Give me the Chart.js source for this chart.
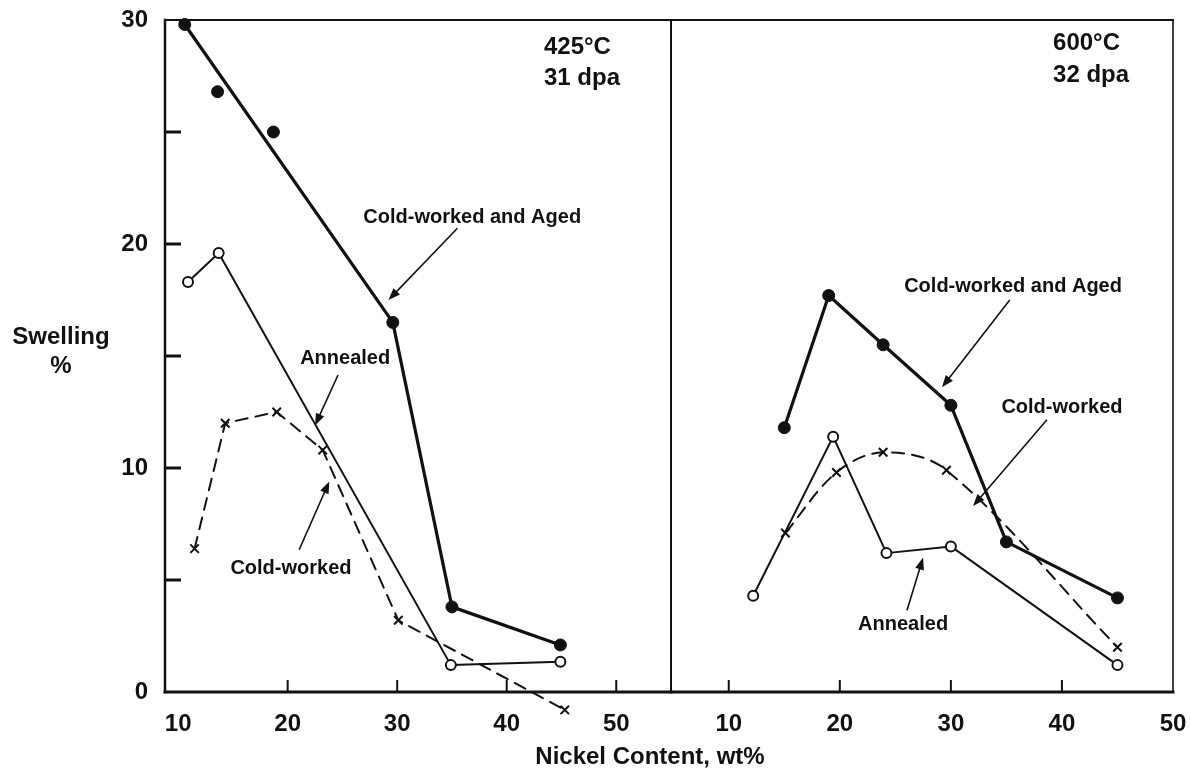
<!DOCTYPE html>
<html>
<head>
<meta charset="utf-8">
<script src="https://cdn.jsdelivr.net/npm/chart.js@4.4.0/dist/chart.umd.min.js"></script>
<style>
  html, body { margin: 0; padding: 0; background: #fff; }
  #wrap { position: relative; width: 1190px; height: 772px; }
  #wrap canvas { position: absolute; left: 0; top: 0; }
</style>
</head>
<body>
<div id="wrap">
  <canvas id="left" width="1190" height="772"></canvas>
  <canvas id="right" width="1190" height="772"></canvas>
</div>
<script>
// 425°C, 31 dpa panel
const leftAgedX = [10.6, 13.6, 18.7, 29.6, 35.0, 44.9];
const leftAgedY = [29.8, 26.8, 25.0, 16.5, 3.8, 2.1];
const leftAgedLine = [0, 3, 4, 5]; // the drawn curve only passes these points
const leftAnnealedX = [10.9, 13.7, 34.9, 44.9];
const leftAnnealedY = [18.3, 19.6, 1.2, 1.35];
const leftColdX = [11.5, 14.3, 19.0, 23.2, 30.1, 45.3];
const leftColdY = [6.4, 12.0, 12.5, 10.8, 3.2, -0.8];

// 600°C, 32 dpa panel
const rightAgedX = [15.0, 19.0, 23.9, 30.0, 35.0, 45.0];
const rightAgedY = [11.8, 17.7, 15.5, 12.8, 6.7, 4.2];
const rightAnnealedX = [12.2, 19.4, 24.2, 30.0, 45.0];
const rightAnnealedY = [4.3, 11.4, 6.2, 6.5, 1.2];
const rightColdX = [15.1, 19.7, 23.9, 29.6, 45.0];
const rightColdY = [7.1, 9.8, 10.7, 9.9, 2.0];

const xTicks = [10, 20, 30, 40, 50];
const yTicks = [0, 10, 20, 30];
const yTickMarks = [5, 10, 15, 20, 25];
const leftXTickMarks = [20, 30, 40, 50];
const rightXTickMarks = [10, 20, 30, 40];

const INK = '#111';
const FAMILY = '"Liberation Sans", Arial, Helvetica, sans-serif';
const bold = px => 'bold ' + px + 'px ' + FAMILY;

const pts = (xs, ys, idx) => (idx || xs.map((_, i) => i)).map(i => ({ x: xs[i], y: ys[i] }));

function seriesSets(agedX, agedY, agedLine, annX, annY, coldX, coldY, coldTension) {
  return [
    { label: 'Annealed', data: pts(annX, annY), borderColor: INK, borderWidth: 2,
      pointStyle: 'circle', pointRadius: 5, pointBackgroundColor: '#fff',
      pointBorderColor: INK, pointBorderWidth: 2, clip: false },
    { label: 'Cold-worked and Aged', data: pts(agedX, agedY, agedLine), borderColor: INK,
      borderWidth: 3.2, pointRadius: 0, clip: false },
    { label: 'Cold-worked and Aged (points)', data: pts(agedX, agedY), showLine: false,
      pointStyle: 'circle', pointRadius: 6, pointBackgroundColor: INK, pointBorderColor: INK,
      pointBorderWidth: 1, clip: false },
    { label: 'Cold-worked', data: pts(coldX, coldY), borderColor: INK, borderWidth: 2,
      borderDash: [12, 8], tension: coldTension, pointStyle: 'crossRot', pointRadius: 6,
      pointBorderColor: INK, pointBorderWidth: 2, clip: false }
  ];
}

function arrow(ctx, x1, y1, x2, y2) {
  const a = Math.atan2(y2 - y1, x2 - x1), len = 12, w = 4.5;
  ctx.beginPath();
  ctx.moveTo(x1, y1);
  ctx.lineTo(x2 - Math.cos(a) * len * 0.8, y2 - Math.sin(a) * len * 0.8);
  ctx.stroke();
  ctx.beginPath();
  ctx.moveTo(x2, y2);
  ctx.lineTo(x2 - len * Math.cos(a) + w * Math.sin(a), y2 - len * Math.sin(a) - w * Math.cos(a));
  ctx.lineTo(x2 - len * Math.cos(a) - w * Math.sin(a), y2 - len * Math.sin(a) + w * Math.cos(a));
  ctx.closePath();
  ctx.fill();
}

const everywhere = { left: -1e4, top: -1e4, right: 1e4, bottom: 1e4 };

// frame, inward tick marks, labels and arrows for one panel
function panelPlugin(cfg) {
  return {
    id: 'panel',
    afterDatasetsDraw(chart) {
      // Chart.js skips points lying outside the plot area; the reference shows them
      const a = chart.chartArea;
      chart.getSortedVisibleDatasetMetas().forEach(meta => {
        meta.data.forEach(el => {
          const inside = el.x >= a.left && el.x <= a.right && el.y >= a.top && el.y <= a.bottom;
          if (!inside) el.draw(chart.ctx, everywhere);
        });
      });
    },
    afterDraw(chart) {
      const ctx = chart.ctx, a = chart.chartArea;
      const xs = chart.scales.x, ys = chart.scales.y;
      ctx.save();
      ctx.strokeStyle = INK;
      ctx.fillStyle = INK;
      ctx.lineCap = 'square';

      const line = (w, x1, y1, x2, y2) => {
        ctx.lineWidth = w; ctx.beginPath(); ctx.moveTo(x1, y1); ctx.lineTo(x2, y2); ctx.stroke();
      };
      line(2, a.left, a.top, a.right, a.top);
      line(3, a.left, a.bottom, a.right, a.bottom);
      line(cfg.leftWidth, a.left, a.top, a.left, a.bottom);
      line(cfg.rightWidth, a.right, a.top, a.right, a.bottom);

      ctx.lineCap = 'butt';
      cfg.xMarks.forEach(v => {
        const px = xs.getPixelForValue(v);
        line(2, px, a.bottom, px, a.bottom - 12);
      });
      (cfg.yMarks || []).forEach(v => {
        const py = ys.getPixelForValue(v);
        line(3, a.left, py, a.left + 16, py);
      });

      ctx.textBaseline = 'middle';
      ctx.font = bold(24);
      ctx.textAlign = 'left';
      cfg.heading.forEach(h => {
        ctx.fillText(h.text, xs.getPixelForValue(h.x), ys.getPixelForValue(h.y));
      });

      ctx.font = bold(20);
      ctx.textAlign = 'center';
      ctx.lineWidth = 1.6;
      cfg.notes.forEach(n => {
        ctx.fillText(n.text, xs.getPixelForValue(n.x), ys.getPixelForValue(n.y));
        arrow(ctx, xs.getPixelForValue(n.from[0]), ys.getPixelForValue(n.from[1]),
          xs.getPixelForValue(n.to[0]), ys.getPixelForValue(n.to[1]));
      });

      if (cfg.titles) {
        ctx.font = bold(24);
        ctx.fillText('Swelling', 61, 337);
        ctx.fillText('%', 61, 366);
        ctx.fillText('Nickel Content, wt%', 650, 757);
      }
      ctx.restore();
    }
  };
}

// keep tick labels from pushing the plot area around
function noEdgePadding(s) {
  s.paddingLeft = 0; s.paddingRight = 0; s.paddingTop = 0; s.paddingBottom = 0;
}

function makeChart(id, opts) {
  const tickFont = { family: FAMILY, size: 24, weight: 'bold' };
  return new Chart(document.getElementById(id), {
    type: 'line',
    data: { datasets: opts.datasets },
    options: {
      responsive: false,
      animation: false,
      events: [],
      layout: { padding: opts.padding },
      plugins: { legend: { display: false }, tooltip: { enabled: false } },
      elements: { line: { borderJoinStyle: 'round', borderCapStyle: 'round' } },
      scales: {
        x: {
          type: 'linear', min: opts.xMin, max: opts.xMax,
          afterBuildTicks: s => { s.ticks = xTicks.map(v => ({ value: v })); },
          afterFit: s => { s.height = 80; noEdgePadding(s); },
          grid: { display: false, drawTicks: false },
          border: { display: false },
          ticks: { padding: 18, font: tickFont, color: INK, maxRotation: 0, autoSkip: false }
        },
        y: {
          type: 'linear', min: 0, max: 30, display: opts.showY,
          afterBuildTicks: s => { s.ticks = yTicks.map(v => ({ value: v })); },
          afterFit: s => { s.width = opts.showY ? 165 : 0; noEdgePadding(s); },
          grid: { display: false, drawTicks: false },
          border: { display: false },
          ticks: { padding: 17, font: tickFont, color: INK }
        }
      }
    },
    plugins: [panelPlugin(opts.panel)]
  });
}

makeChart('left', {
  datasets: seriesSets(leftAgedX, leftAgedY, leftAgedLine, leftAnnealedX, leftAnnealedY,
    leftColdX, leftColdY, 0),
  padding: { left: 0, right: 519, top: 20, bottom: 0 },
  xMin: 8.8, xMax: 55, showY: true,
  panel: {
    leftWidth: 2.5, rightWidth: 2, xMarks: leftXTickMarks, yMarks: yTickMarks, titles: true,
    heading: [{ text: '425°C', x: 43.4, y: 28.8 }, { text: '31 dpa', x: 43.4, y: 27.4 }],
    notes: [
      { text: 'Cold-worked and Aged', x: 36.85, y: 21.2, from: [35.5, 20.7], to: [29.2, 17.5] },
      { text: 'Annealed', x: 25.25, y: 14.87, from: [24.6, 14.15], to: [22.5, 11.9] },
      { text: 'Cold-worked', x: 20.3, y: 5.5, from: [21.05, 6.35], to: [23.8, 9.4] }
    ]
  }
});

makeChart('right', {
  datasets: seriesSets(rightAgedX, rightAgedY, null, rightAnnealedX, rightAnnealedY,
    rightColdX, rightColdY, 0.35),
  padding: { left: 671, right: 17, top: 20, bottom: 0 },
  xMin: 4.8, xMax: 50, showY: false,
  panel: {
    leftWidth: 2, rightWidth: 1.6, xMarks: rightXTickMarks, titles: false,
    heading: [{ text: '600°C', x: 39.2, y: 28.95 }, { text: '32 dpa', x: 39.2, y: 27.55 }],
    notes: [
      { text: 'Cold-worked and Aged', x: 35.6, y: 18.1, from: [35.3, 17.5], to: [29.2, 13.6] },
      { text: 'Cold-worked', x: 40.0, y: 12.7, from: [38.65, 12.15], to: [32.0, 8.3] },
      { text: 'Annealed', x: 25.7, y: 3.0, from: [26.05, 3.65], to: [27.5, 6.0] }
    ]
  }
});
</script>
</body>
</html>
